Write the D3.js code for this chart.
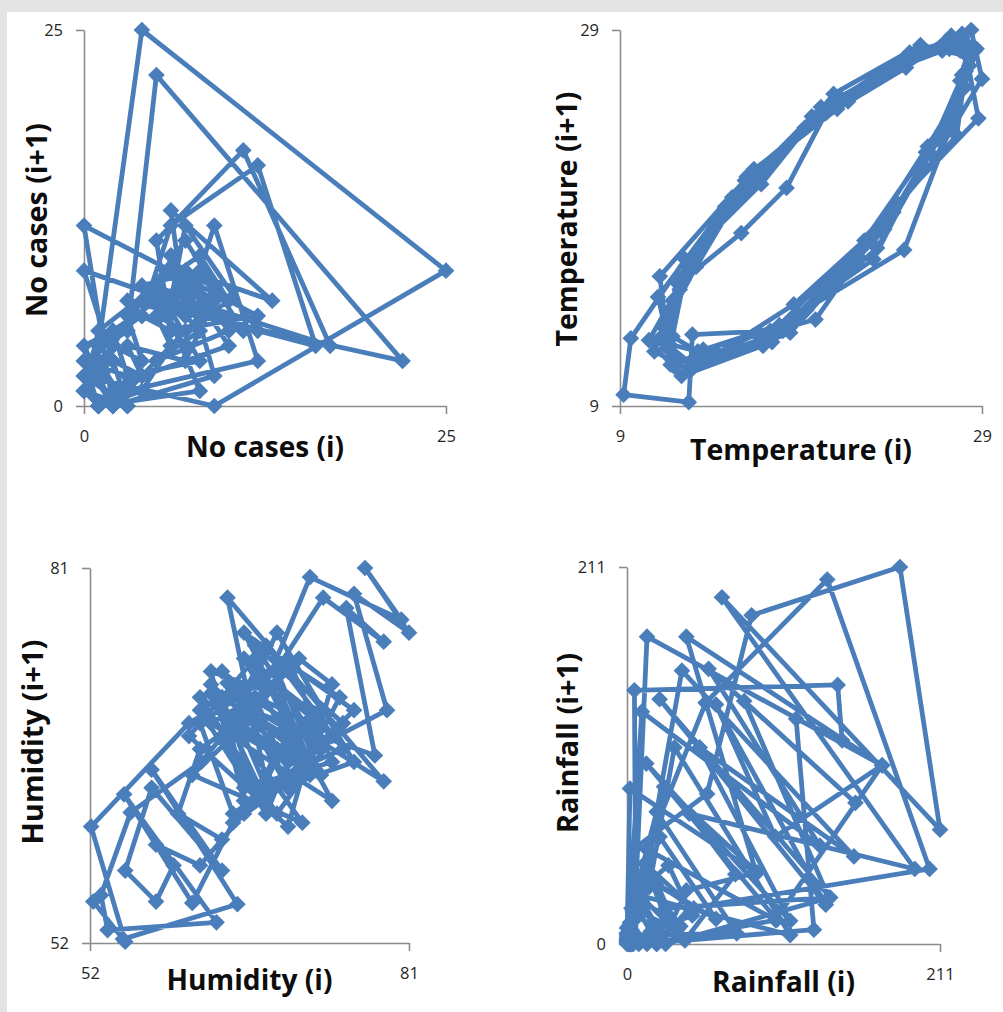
<!DOCTYPE html>
<html>
<head>
<meta charset="utf-8">
<script src="https://cdn.jsdelivr.net/npm/d3@7"></script>
<style>
  body { margin: 0; background: #e3e3e3; }
  svg { display: block; }
</style>
</head>
<body>
<svg id="chart" width="1003" height="1012"></svg>
<script>
// Monthly series (10 years). Each panel is a lag plot: value(i) against value(i+1)
const noCases = [
    2, 1, 3, 0, 1, 4, 6, 5, 8, 3, 2, 0,
    1, 4, 25, 9, 0, 2, 5, 7, 6, 10, 4, 2,
    0, 12, 6, 5, 11, 17, 4, 8, 9, 12, 3, 1,
    0, 3, 5, 22, 3, 7, 6, 13, 7, 9, 2, 0,
    4, 6, 12, 16, 4, 7, 11, 5, 8, 1, 0, 2,
    3, 0, 9, 6, 7, 12, 5, 8, 5, 3, 1, 0,
    1, 2, 4, 7, 8, 6, 9, 7, 3, 4, 2, 1,
    0, 1, 5, 8, 10, 7, 5, 6, 4, 2, 3, 0,
    2, 4, 3, 6, 9, 8, 6, 10, 5, 3, 1, 2,
    0, 3, 2, 5, 7, 4, 8, 6, 4, 1, 0, 1
];
const temperature = [
    11.6, 12.1, 15.6, 20.4, 24.6, 27.4, 28.3, 28.0, 26.0, 22.8, 18.0, 13.0,
    11.2, 12.6, 16.0, 21.2, 25.4, 27.9, 28.6, 27.9, 26.6, 23.2, 17.4, 12.4,
    10.6, 12.5, 15.7, 18.2, 20.6, 25.0, 27.8, 27.9, 28.8, 24.3, 19.8, 13.6,
    12.0, 11.1, 14.8, 19.6, 24.4, 27.2, 28.0, 28.4, 27.6, 24.7, 17.3, 13.0,
    12.8, 9.2, 9.6, 12.6, 16.8, 20.8, 25.6, 28.2, 27.6, 23.4, 18.6, 14.4,
    11.8, 11.2, 15.9, 21.0, 24.8, 27.0, 28.4, 29.0, 26.4, 22.2, 16.9, 12.2,
    11.4, 13.2, 16.4, 21.6, 25.2, 27.6, 28.5, 28.1, 26.8, 23.6, 18.4, 12.9,
    10.9, 11.9, 14.6, 19.2, 23.8, 26.8, 27.9, 28.3, 27.1, 24.1, 19.3, 14.1,
    11.7, 12.3, 15.2, 20.1, 24.9, 27.3, 28.7, 28.0, 25.9, 22.5, 17.8, 13.3,
    11.9, 12.7, 16.5, 20.9, 25.3, 27.7, 28.2, 27.8, 26.3, 23.0, 16.8, 12.6
];
const humidity = [
    66, 69, 72, 70, 67, 64, 68, 74.7, 71, 65, 61.3, 55.1,
    63.5, 53.6, 53, 55.7, 62.1, 66, 70, 68, 64.5, 78.7, 64.5, 72.1,
    69, 67, 71, 74, 72, 66, 62, 58, 59.6, 58, 55.2, 57.6,
    64, 57.6, 65.4, 55, 52.3, 55.2, 52.1, 61, 69, 73.2, 78.7, 75.3,
    77.9, 66.5, 70, 73, 69, 67, 63, 71.3, 61.3, 65, 68, 72,
    80.3, 77, 81, 76, 79, 70, 66, 68, 64, 60, 62, 67,
    70, 64, 73, 67, 75, 69, 62, 71, 66, 74, 68, 63,
    72, 65, 69, 76, 66, 63, 73, 70, 61, 68, 75, 67,
    64, 71, 67, 74, 63, 69, 72, 66, 76, 70, 65, 62,
    69, 73, 65, 71, 68, 62, 70, 74, 66, 64, 71, 67
];
const rainfall = [
    2, 0, 5, 13.5, 172, 100, 60, 134, 22, 137, 26, 0,
    1, 3, 20, 74, 6, 5, 142, 145, 114, 126, 8, 0,
    0, 2, 12, 37, 153, 49, 110, 13, 101, 13.5, 0, 4,
    0, 6, 54, 84, 184, 211, 64, 194, 42, 73, 39, 2,
    0, 1, 10, 130, 55, 154, 79, 136, 26, 20, 0, 3,
    0, 2, 87, 40, 172, 100, 13.5, 53, 135, 204, 42, 20,
    0, 1, 4, 18, 9, 25, 88, 40, 30, 12, 3, 0,
    2, 0, 6, 15, 32, 110, 5, 28, 44, 16, 7, 1,
    0, 3, 8, 22, 60, 14, 36, 10, 24, 5, 2, 0,
    1, 0, 9, 27, 12, 45, 20, 34, 8, 18, 4, 0
];

const seriesNames = ["No cases", "Temperature", "Humidity", "Rainfall"];
const axisMin = [0, 9, 52, 0];
const axisMax = [25, 29, 81, 211];

const allSeries = [noCases, temperature, humidity, rainfall];

// pixel boxes of each plot area and title placement
const panels = [
    { left: 84,  right: 446, top: 30,  bottom: 406, xTitleDy: 41, xTitleW: 158, yTitleX: 37,  yTitleY: 220, yTitleW: 194 },
    { left: 620, right: 982, top: 30,  bottom: 406, xTitleDy: 44, xTitleW: 222, yTitleX: 567, yTitleY: 219, yTitleW: 255 },
    { left: 90,  right: 409, top: 568, bottom: 943, xTitleDy: 37, xTitleW: 166, yTitleX: 33,  yTitleY: 742, yTitleW: 205 },
    { left: 627, right: 940, top: 567, bottom: 944, xTitleDy: 38, xTitleW: 143, yTitleX: 568, yTitleY: 743, yTitleW: 180 }
];

const lineColor = "#4a7ebb";
const axisColor = "#8c8c8c";
const fontFamily = "'Open Sans', Lato, sans-serif";

const svg = d3.select("#chart");

// white page with the grey frame showing at top and left
svg.append("rect")
    .attr("x", 7).attr("y", 12)
    .attr("width", 996).attr("height", 1000)
    .attr("fill", "#ffffff");

const diamond = d3.symbol(d3.symbolSquare, 140);

// scale a title's font so it spans the wanted width
function fitText(sel, width) {
    const len = sel.node().getComputedTextLength();
    sel.style("font-size", (25 * width / len).toFixed(2) + "px");
}

panels.forEach(function(p, k) {
    const values = allSeries[k];
    const lagPairs = d3.pairs(values); // [value(i), value(i+1)]

    const x = d3.scaleLinear().domain([axisMin[k], axisMax[k]]).range([p.left, p.right]);
    const y = d3.scaleLinear().domain([axisMin[k], axisMax[k]]).range([p.bottom, p.top]);

    const g = svg.append("g");

    // axes
    const xAxis = d3.axisBottom(x)
        .tickValues([axisMin[k], axisMax[k]])
        .tickSizeInner(8).tickSizeOuter(0).tickPadding(16);
    const yAxis = d3.axisLeft(y)
        .tickValues([axisMin[k], axisMax[k]])
        .tickSizeInner(8).tickSizeOuter(0).tickPadding(13);

    const gx = g.append("g")
        .attr("transform", `translate(0,${p.bottom})`)
        .call(xAxis);
    const gy = g.append("g")
        .attr("transform", `translate(${p.left},0)`)
        .call(yAxis);

    [gx, gy].forEach(function(a) {
        a.selectAll("path, line").attr("stroke", axisColor).attr("stroke-width", 1.6);
        a.selectAll("text")
            .attr("fill", "#262626")
            .style("font-family", fontFamily)
            .style("font-size", "16.5px");
    });

    // connected lag plot
    const line = d3.line()
        .x(function(d) { return x(d[0]); })
        .y(function(d) { return y(d[1]); });

    g.append("path")
        .datum(lagPairs)
        .attr("d", line)
        .attr("fill", "none")
        .attr("stroke", lineColor)
        .attr("stroke-width", 4.8)
        .attr("stroke-linejoin", "round");

    g.selectAll("path.marker")
        .data(lagPairs)
        .enter().append("path")
        .attr("class", "marker")
        .attr("d", diamond)
        .attr("transform", function(d) {
            return `translate(${x(d[0])},${y(d[1])}) rotate(45)`;
        })
        .attr("fill", lineColor);

    // axis titles
    const xt = g.append("text")
        .attr("x", (p.left + p.right) / 2)
        .attr("y", p.bottom + p.xTitleDy)
        .attr("dy", "0.35em")
        .attr("text-anchor", "middle")
        .style("font-family", fontFamily)
        .style("font-weight", "bold")
        .style("font-size", "25px")
        .attr("fill", "#0d0d0d")
        .text(seriesNames[k] + " (i)");
    fitText(xt, p.xTitleW);

    const yt = g.append("text")
        .attr("transform", `translate(${p.yTitleX},${p.yTitleY}) rotate(-90)`)
        .attr("dy", "0.35em")
        .attr("text-anchor", "middle")
        .style("font-family", fontFamily)
        .style("font-weight", "bold")
        .style("font-size", "25px")
        .attr("fill", "#0d0d0d")
        .text(seriesNames[k] + " (i+1)");
    fitText(yt, p.yTitleW);
});
</script>
</body>
</html>
